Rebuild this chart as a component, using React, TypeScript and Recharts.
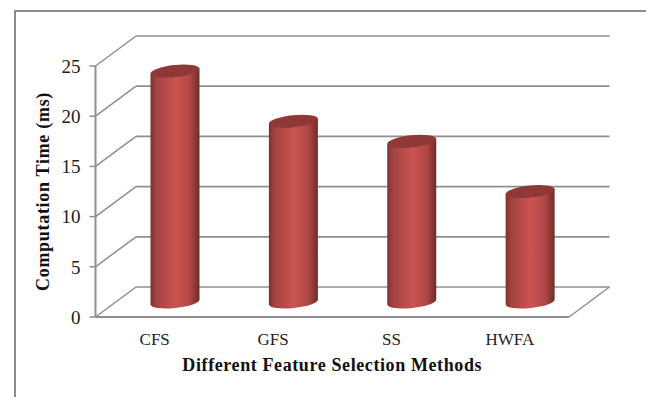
import React from 'react';
import { BarChart, Bar, XAxis, YAxis, CartesianGrid, Label } from 'recharts';

const categories = ['CFS', 'GFS', 'SS', 'HWFA'];
const computationTimes = [23, 18, 16, 11];
const yTicks = [0, 5, 10, 15, 20, 25];

const data = categories.map((method, i) => ({ method, time: computationTimes[i] }));

// depth of the fake 3D box, and where the cylinders sit inside it
const WALL_DX = 40.5;
const WALL_DY = -30;
const BAR_DX = 20;
const BAR_DY = -15;
const GRID = '#8f8f8f';
const SERIF = '"Liberation Serif", serif';

const TILT = -6;

function Cylinder(props: any) {
    const { x, y, width, height } = props;
    const cx = x + width / 2 + BAR_DX;
    const top = y + BAR_DY;
    const bottom = y + height + BAR_DY;
    const rx = width / 2;
    const ry = 6;
    const rise = rx * Math.sin((-TILT * Math.PI) / 180);
    const body =
        `M${cx - rx},${top + rise} L${cx + rx},${top - rise} L${cx + rx},${bottom - rise} ` +
        `A${rx},${ry} ${TILT} 0 1 ${cx - rx},${bottom + rise} Z`;
    const cap =
        `M${cx - rx},${top + rise} A${rx},${ry} ${TILT} 0 1 ${cx + rx},${top - rise} ` +
        `A${rx},${ry} ${TILT} 0 1 ${cx - rx},${top + rise} Z`;
    return (
        <g>
            <path d={body} fill="url(#cylinderShade)" />
            <path d={cap} fill="#8f3836" />
        </g>
    );
}

// each grid line runs along the back wall, with a diagonal down the side wall
function WallLine(props: any) {
    const { x1, x2, y1 } = props;
    const isFloor = Math.abs(y1 - 317) < 1;
    return (
        <g stroke={GRID} fill="none">
            <line x1={x1} y1={y1} x2={x1 + WALL_DX} y2={y1 + WALL_DY} strokeWidth={1.5} />
            <line x1={x1 + WALL_DX} y1={y1 + WALL_DY} x2={x2 + WALL_DX} y2={y1 + WALL_DY} strokeWidth={1.7} />
            {isFloor && <line x1={x2} y1={y1} x2={x2 + WALL_DX} y2={y1 + WALL_DY} strokeWidth={1.5} />}
        </g>
    );
}

export default function App() {
    return (
        <div style={{ position: 'absolute', left: 0, top: 0, width: 646, height: 397, overflow: 'hidden', background: '#fff' }}>
            <div
                style={{
                    position: 'absolute',
                    left: 14,
                    top: 10,
                    width: 630,
                    height: 420,
                    border: '2px solid #8c8c8c',
                }}
            />
            <div style={{ position: 'absolute', left: 0, top: 0 }}>
                <BarChart
                    width={646}
                    height={397}
                    data={data}
                    barSize={49}
                    margin={{ top: 66, right: 77, bottom: 0, left: 15.5 }}
                >
                    <defs>
                        <linearGradient id="cylinderShade" x1="0" y1="0" x2="1" y2="0">
                            <stop offset="0%" stopColor="#7e3230" />
                            <stop offset="12%" stopColor="#a34341" />
                            <stop offset="52%" stopColor="#cb5350" />
                            <stop offset="80%" stopColor="#b04846" />
                            <stop offset="100%" stopColor="#6f2c2a" />
                        </linearGradient>
                    </defs>
                    <CartesianGrid vertical={false} horizontal={(p: any) => <WallLine key={p.key ?? p.y1} {...p} />} />
                    <XAxis
                        dataKey="method"
                        interval={0}
                        height={80}
                        axisLine={{ stroke: GRID, strokeWidth: 2 }}
                        tickLine={false}
                        tickMargin={10}
                        tick={{ fill: '#222', fontSize: 17, fontFamily: SERIF }}
                    >
                        <Label
                            value="Different Feature Selection Methods"
                            position="insideTop"
                            offset={41}
                            style={{ fill: '#111', fontSize: 18, fontWeight: 700, fontFamily: SERIF, letterSpacing: 0.6 }}
                        />
                    </XAxis>
                    <YAxis
                        domain={[0, 25]}
                        ticks={yTicks}
                        width={80}
                        axisLine={{ stroke: GRID, strokeWidth: 2 }}
                        tickLine={{ stroke: GRID, strokeWidth: 1.5 }}
                        tickSize={6}
                        tickMargin={9}
                        tick={{ fill: '#222', fontSize: 19, fontFamily: SERIF }}
                    >
                        <Label
                            value="Computation Time (ms)"
                            angle={-90}
                            position="insideLeft"
                            offset={27}
                            style={{ textAnchor: 'middle', fill: '#111', fontSize: 18, fontWeight: 700, fontFamily: SERIF, letterSpacing: 0.7 }}
                        />
                    </YAxis>
                    <Bar dataKey="time" shape={Cylinder} isAnimationActive={false} />
                </BarChart>
            </div>
        </div>
    );
}
